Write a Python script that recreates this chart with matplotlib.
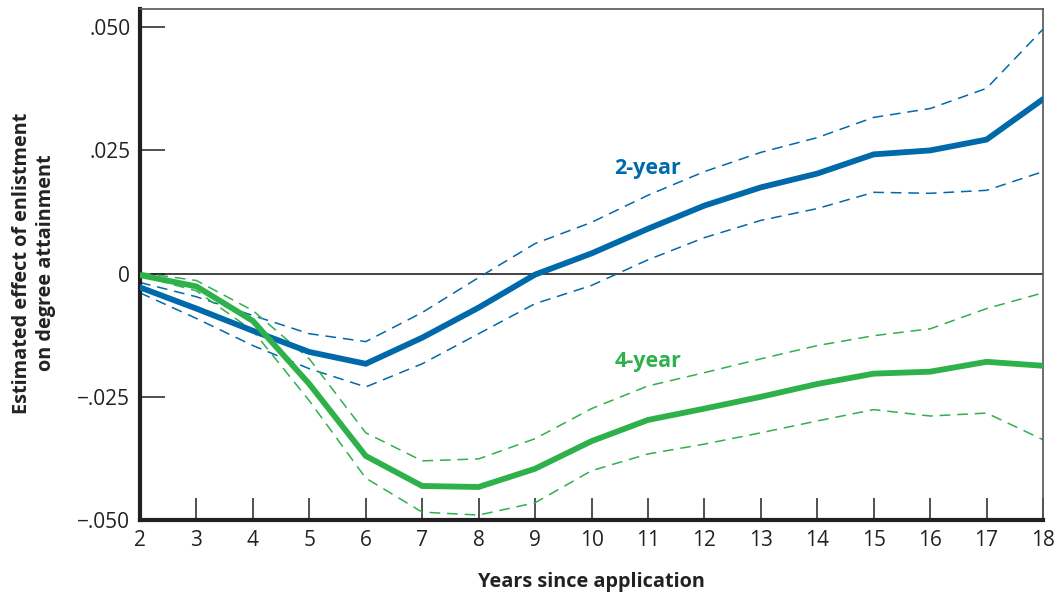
import matplotlib
matplotlib.use("Agg")
import matplotlib.pyplot as plt

plt.rcParams['font.family'] = ['Open Sans', 'DejaVu Sans']

years = list(range(2, 19))
two_year = [-0.0028, -0.0071, -0.0116, -0.0159, -0.0183, -0.0130, -0.0069, -0.0002,
            0.0041, 0.0091, 0.0138, 0.0175, 0.0203, 0.0242, 0.0250, 0.0272, 0.0354]
two_year_hi = [-0.0018, -0.0047, -0.0085, -0.0122, -0.0138, -0.0079, -0.0008, 0.0061,
               0.0104, 0.0159, 0.0207, 0.0246, 0.0276, 0.0317, 0.0335, 0.0376, 0.0496]
two_year_lo = [-0.0039, -0.0091, -0.0146, -0.0193, -0.0230, -0.0183, -0.0122, -0.0061,
               -0.0024, 0.0028, 0.0073, 0.0108, 0.0132, 0.0165, 0.0163, 0.0169, 0.0207]
four_year = [-0.0003, -0.0026, -0.0096, -0.0224, -0.0370, -0.0431, -0.0433, -0.0396,
             -0.0340, -0.0297, -0.0274, -0.0250, -0.0224, -0.0203, -0.0199, -0.0179, -0.0187]
four_year_hi = [0.0002, -0.0014, -0.0075, -0.0173, -0.0323, -0.0380, -0.0376, -0.0335,
                -0.0274, -0.0228, -0.0201, -0.0173, -0.0146, -0.0126, -0.0112, -0.0071, -0.0039]
four_year_lo = [-0.0004, -0.0035, -0.0116, -0.0258, -0.0415, -0.0484, -0.0490, -0.0465,
                -0.0400, -0.0366, -0.0346, -0.0323, -0.0299, -0.0276, -0.0289, -0.0283, -0.0337]

y_ticks = [0.050, 0.025, 0.0, -0.025, -0.050]
y_tick_labels = ['.050', '.025', '0', '\u2212.025', '\u2212.050']

BLUE = '#0069AA'
GREEN = '#2EB14B'

fig = plt.figure(figsize=(10.56, 5.97), dpi=100)
ax = fig.add_axes([140/1056, 77/597, (1043-140)/1056, (520-9)/597])

ax.axhline(0, color='#333333', lw=1.3, zorder=1)

dash = (0, (7, 4.5))
ax.plot(years, two_year_hi, color=BLUE, lw=1.1, linestyle=dash, zorder=2)
ax.plot(years, two_year_lo, color=BLUE, lw=1.1, linestyle=dash, zorder=2)
ax.plot(years, four_year_hi, color=GREEN, lw=1.1, linestyle=dash, zorder=2)
ax.plot(years, four_year_lo, color=GREEN, lw=1.1, linestyle=dash, zorder=2)
ax.plot(years, two_year, color=BLUE, lw=4.2, zorder=3, solid_joinstyle='miter')
ax.plot(years, four_year, color=GREEN, lw=4.2, zorder=3, solid_joinstyle='miter')

ax.text(11.0, 0.0214, '2-year', color=BLUE, fontsize=15.5, fontweight='bold', ha='center', va='center')
ax.text(11.0, -0.0178, '4-year', color=GREEN, fontsize=15.5, fontweight='bold', ha='center', va='center')

ax.set_xlim(2, 18)
ax.set_ylim(-0.050, 0.0537)
ax.set_xticks(years)
ax.set_xticklabels([str(y) for y in years])
ax.set_yticks(y_ticks)
ax.set_yticklabels(y_tick_labels)

ax.tick_params(axis='y', direction='in', length=18, width=1.1, color='#222222',
               labelsize=15, pad=7, labelcolor='#222222')
ax.tick_params(axis='x', direction='in', length=16, width=1.1, color='#222222',
               labelsize=15, pad=7, labelcolor='#222222')

for side in ['left', 'bottom']:
    ax.spines[side].set_linewidth(3.0)
    ax.spines[side].set_color('#231F20')
for side in ['top', 'right']:
    ax.spines[side].set_linewidth(1.2)
    ax.spines[side].set_color('#555555')

ax.set_xlabel('Years since application', fontsize=14.3, fontweight='bold', color='#222222')
ax.set_ylabel('Estimated effect of enlistment\non degree attainment', fontsize=14.3,
              fontweight='bold', color='#222222', linespacing=1.25)
ax.xaxis.set_label_coords((591-140)/903, (520-582)/511)
ax.yaxis.set_label_coords((34-140)/903, (520-263)/511)
ax.xaxis.label.set_va('center')
ax.yaxis.label.set_va('center')

fig.savefig('out.png', dpi=100)
